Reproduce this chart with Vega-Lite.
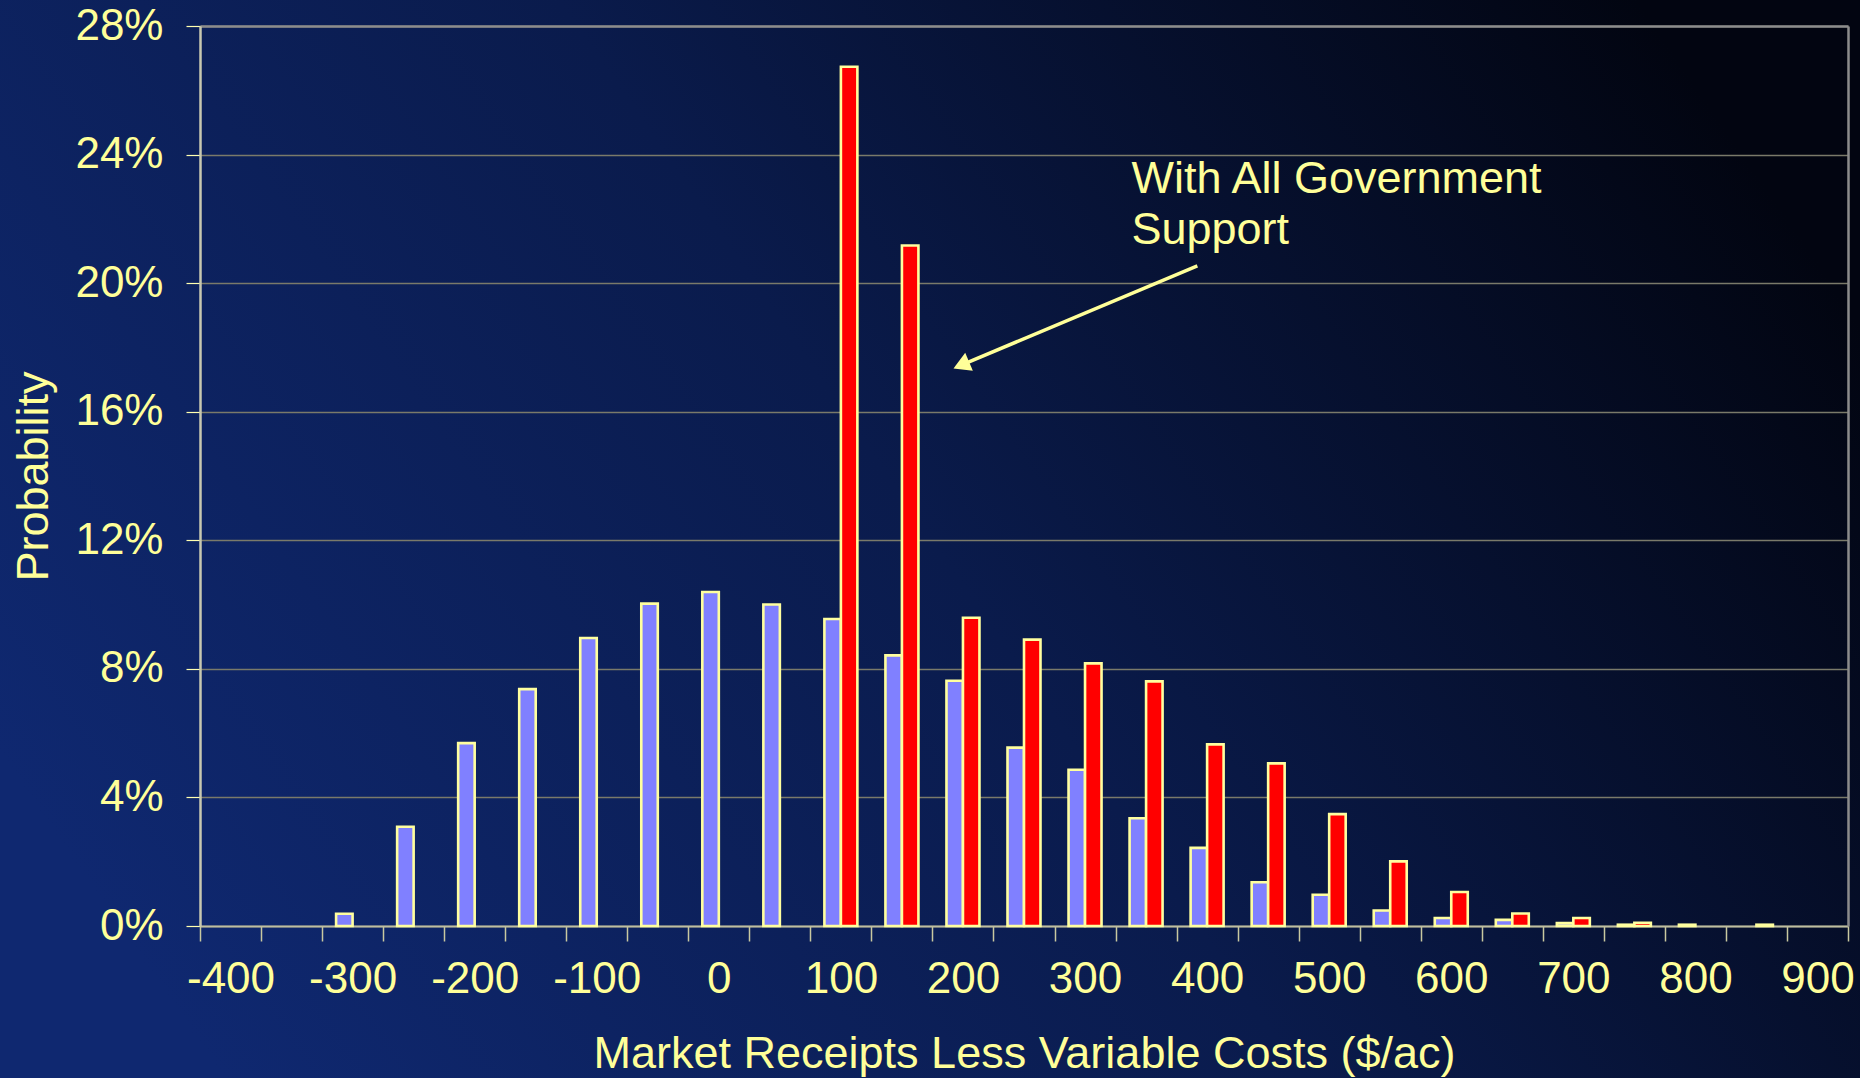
{
  "$schema": "https://vega.github.io/schema/vega-lite/v6.json",
  "width": 1860,
  "height": 1078,
  "autosize": {"type": "none"},
  "padding": 0,
  "background": "#0A1A48",
  "config": {
    "font": "Liberation Sans",
    "view": {
      "stroke": null,
      "fill": {
        "gradient": "linear",
        "x1": 0, "y1": 0.7, "x2": 1, "y2": 0.3,
        "stops": [
          {"offset": 0, "color": "#0F2870"},
          {"offset": 0.5, "color": "#0A1B4C"},
          {"offset": 1, "color": "#020511"}
        ]
      }
    }
  },
  "layer": [
    {
      "data": {
        "values": [
          {"receipts": -300, "support": "Market Only", "probability": 0.0038},
          {"receipts": -250, "support": "Market Only", "probability": 0.0309},
          {"receipts": -200, "support": "Market Only", "probability": 0.0569},
          {"receipts": -150, "support": "Market Only", "probability": 0.0737},
          {"receipts": -100, "support": "Market Only", "probability": 0.0896},
          {"receipts": -50, "support": "Market Only", "probability": 0.1003},
          {"receipts": 0, "support": "Market Only", "probability": 0.1039},
          {"receipts": 50, "support": "Market Only", "probability": 0.1000},
          {"receipts": 100, "support": "Market Only", "probability": 0.0955},
          {"receipts": 150, "support": "Market Only", "probability": 0.0842},
          {"receipts": 200, "support": "Market Only", "probability": 0.0763},
          {"receipts": 250, "support": "Market Only", "probability": 0.0555},
          {"receipts": 300, "support": "Market Only", "probability": 0.0486},
          {"receipts": 350, "support": "Market Only", "probability": 0.0335},
          {"receipts": 400, "support": "Market Only", "probability": 0.0243},
          {"receipts": 450, "support": "Market Only", "probability": 0.0136},
          {"receipts": 500, "support": "Market Only", "probability": 0.0097},
          {"receipts": 550, "support": "Market Only", "probability": 0.0048},
          {"receipts": 600, "support": "Market Only", "probability": 0.0025},
          {"receipts": 650, "support": "Market Only", "probability": 0.0019},
          {"receipts": 700, "support": "Market Only", "probability": 0.0009},
          {"receipts": 750, "support": "Market Only", "probability": 0.0004},
          {"receipts": 800, "support": "Market Only", "probability": 0.0004},
          {"receipts": 100, "support": "With All Government Support", "probability": 0.2673},
          {"receipts": 150, "support": "With All Government Support", "probability": 0.2117},
          {"receipts": 200, "support": "With All Government Support", "probability": 0.0959},
          {"receipts": 250, "support": "With All Government Support", "probability": 0.0891},
          {"receipts": 300, "support": "With All Government Support", "probability": 0.0817},
          {"receipts": 350, "support": "With All Government Support", "probability": 0.0761},
          {"receipts": 400, "support": "With All Government Support", "probability": 0.0565},
          {"receipts": 450, "support": "With All Government Support", "probability": 0.0506},
          {"receipts": 500, "support": "With All Government Support", "probability": 0.0348},
          {"receipts": 550, "support": "With All Government Support", "probability": 0.0201},
          {"receipts": 600, "support": "With All Government Support", "probability": 0.0106},
          {"receipts": 650, "support": "With All Government Support", "probability": 0.0039},
          {"receipts": 700, "support": "With All Government Support", "probability": 0.0025},
          {"receipts": 750, "support": "With All Government Support", "probability": 0.0010},
          {"receipts": 850, "support": "With All Government Support", "probability": 0.0004}
        ]
      },
      "mark": {"type": "bar", "stroke": "#FFFF9F", "strokeWidth": 2.6},
      "encoding": {
        "x": {
          "field": "receipts",
          "type": "nominal",
          "scale": {
            "domain": [-400, -350, -300, -250, -200, -150, -100, -50, 0, 50, 100, 150, 200, 250, 300, 350, 400, 450, 500, 550, 600, 650, 700, 750, 800, 850, 900],
            "range": [200, 1848],
            "paddingInner": 0,
            "paddingOuter": 0
          },
          "axis": {
            "orient": "bottom",
            "offset": -152,
            "domainColor": "#BEBEA0",
            "domainWidth": 2,
            "ticks": true,
            "tickBand": "extent",
            "tickColor": "#C8C8A0",
            "tickWidth": 1.5,
            "tickSize": 15,
            "grid": false,
            "labelAngle": 0,
            "labelOverlap": false,
            "labelFontSize": 44,
            "labelColor": "#FFFF99",
            "labelBaseline": "alphabetic",
            "labelPadding": 51,
            "labelExpr": "datum.value % 100 === 0 ? datum.label : ''",
            "title": "Market Receipts Less Variable Costs ($/ac)",
            "titleFontSize": 45,
            "titleFontWeight": "normal",
            "titleColor": "#FFFF99",
            "titleBaseline": "alphabetic",
            "titleX": 1024,
            "titleY": 141
          }
        },
        "xOffset": {
          "field": "support",
          "type": "nominal",
          "scale": {
            "domain": ["Market Only", "With All Government Support"],
            "paddingInner": 0,
            "paddingOuter": 0.85
          }
        },
        "y": {
          "field": "probability",
          "type": "quantitative",
          "scale": {"domain": [0, 0.28], "range": [926, 26], "nice": false},
          "axis": {
            "orient": "left",
            "offset": -200,
            "values": [0, 0.04, 0.08, 0.12, 0.16, 0.2, 0.24, 0.28],
            "format": ".0%",
            "grid": true,
            "gridColor": "#7A7A6A",
            "gridWidth": 1.3,
            "domainColor": "#C8C8B0",
            "domainWidth": 2.5,
            "tickColor": "#FFFFB0",
            "tickWidth": 1.2,
            "tickSize": 14,
            "labelPadding": 23,
            "labelFontSize": 44,
            "labelColor": "#FFFF99",
            "title": "Probability",
            "titleFontSize": 45,
            "titleFontWeight": "normal",
            "titleColor": "#FFFF99",
            "titleAngle": -90,
            "titleBaseline": "alphabetic",
            "titleX": -153,
            "titleY": 476
          }
        },
        "color": {
          "field": "support",
          "type": "nominal",
          "scale": {
            "domain": ["Market Only", "With All Government Support"],
            "range": ["#8080FF", "#FF0000"]
          },
          "legend": null
        }
      }
    },
    {
      "data": {"values": [{"note": ["With All Government", "Support"]}]},
      "layer": [
        {
          "mark": {"type": "rule", "stroke": "#FFFF99", "strokeWidth": 3.5},
          "encoding": {
            "x": {
              "datum": 392,
              "type": "quantitative",
              "scale": {"domain": [-425, 925], "range": [200, 1848], "nice": false, "zero": false},
              "axis": {
                "orient": "top",
                "offset": -26,
                "labels": false,
                "ticks": false,
                "grid": false,
                "domainColor": "#8C8C8C",
                "domainWidth": 2.5,
                "title": null
              }
            },
            "x2": {"datum": 198.6},
            "y": {
              "datum": 0.2054,
              "type": "quantitative",
              "axis": {
                "orient": "right",
                "offset": -12,
                "labels": false,
                "ticks": false,
                "grid": false,
                "domainColor": "#8C8C8C",
                "domainWidth": 2.5,
                "title": null
              }
            },
            "y2": {"datum": 0.1745}
          }
        },
        {
          "mark": {"type": "point", "shape": "triangle-up", "filled": true, "fill": "#FFFF99", "opacity": 1, "size": 380, "angle": 247},
          "encoding": {
            "x": {"datum": 198.6, "type": "quantitative"},
            "y": {"datum": 0.1745, "type": "quantitative"}
          }
        },
        {
          "mark": {"type": "text", "align": "left", "baseline": "alphabetic", "fontSize": 45, "lineHeight": 51.5, "color": "#FFFF99"},
          "encoding": {
            "x": {"datum": 338, "type": "quantitative"},
            "y": {"datum": 0.2281, "type": "quantitative"},
            "text": {"field": "note"}
          }
        }
      ]
    }
  ],
  "resolve": {
    "scale": {"x": "independent"},
    "axis": {"x": "independent", "y": "independent"}
  }
}
